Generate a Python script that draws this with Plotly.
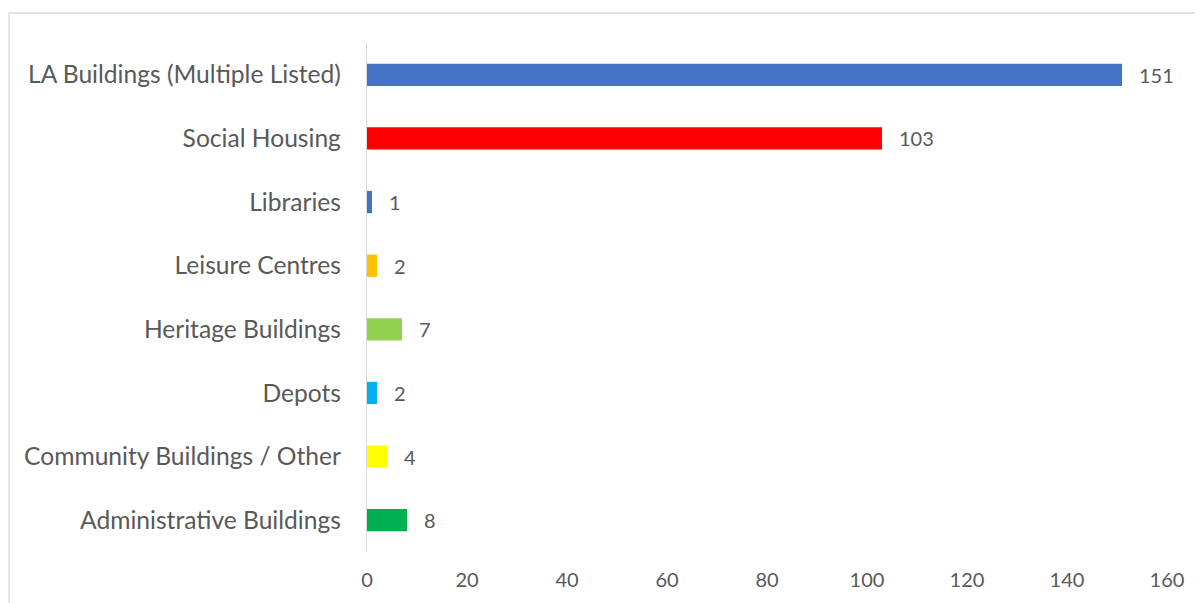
import plotly.graph_objects as go

categories = ["LA Buildings (Multiple Listed)", "Social Housing", "Libraries", "Leisure Centres",
              "Heritage Buildings", "Depots", "Community Buildings / Other", "Administrative Buildings"]
values = [151, 103, 1, 2, 7, 2, 4, 8]
colors = ["#4472C4", "#FF0000", "#4472C4", "#FFC000", "#92D050", "#00B0F0", "#FFFF00", "#00B050"]
x_ticks = [0, 20, 40, 60, 80, 100, 120, 140, 160]

# page has an 8px body margin; work in page pixels and subtract it
OFF = 8
W, H = 1203 - OFF, 603 - OFF
L, R, T, B = 367 - OFF, 1167 - OFF, 43 - OFF, 552 - OFF

FONT = "Lato"
GREY = "#595959"

fig = go.Figure(go.Bar(
    y=categories, x=values, orientation="h",
    marker=dict(color=colors, line=dict(width=0)),
    hoverinfo="skip",
))

for c, v in zip(categories, values):
    fig.add_annotation(x=v, y=c, text=str(v), showarrow=False, xanchor="left",
                       xshift=15, font=dict(family=FONT, size=20, color=GREY))

# chart area border
fig.add_shape(type="rect", xref="paper", yref="paper",
              x0=(9 - OFF - L) / (R - L), x1=(1230 - L) / (R - L),
              y0=(B - 630) / (B - T), y1=(B - (13 - OFF)) / (B - T),
              line=dict(color="#D9D9D9", width=1.3), fillcolor="rgba(0,0,0,0)", layer="below")

fig.update_layout(
    width=W, height=H,
    margin=dict(l=L, r=W - R, t=T, b=H - B),
    paper_bgcolor="white", plot_bgcolor="white",
    bargap=0.65,
    showlegend=False,
    font=dict(family=FONT, size=20, color=GREY),
    xaxis=dict(range=[0, 160], tickvals=x_ticks, showgrid=False, zeroline=False,
               showline=False, ticks="", ticklabelstandoff=14,
               tickfont=dict(family=FONT, size=20, color=GREY), fixedrange=True),
    yaxis=dict(categoryorder="array", categoryarray=categories[::-1], showgrid=False,
               showline=True, linecolor="#D9D9D9", linewidth=1.3, ticks="",
               ticklabelstandoff=20, zeroline=False,
               tickfont=dict(family=FONT, size=24.6, color=GREY), fixedrange=True),
)

fig.write_html("out.html")
